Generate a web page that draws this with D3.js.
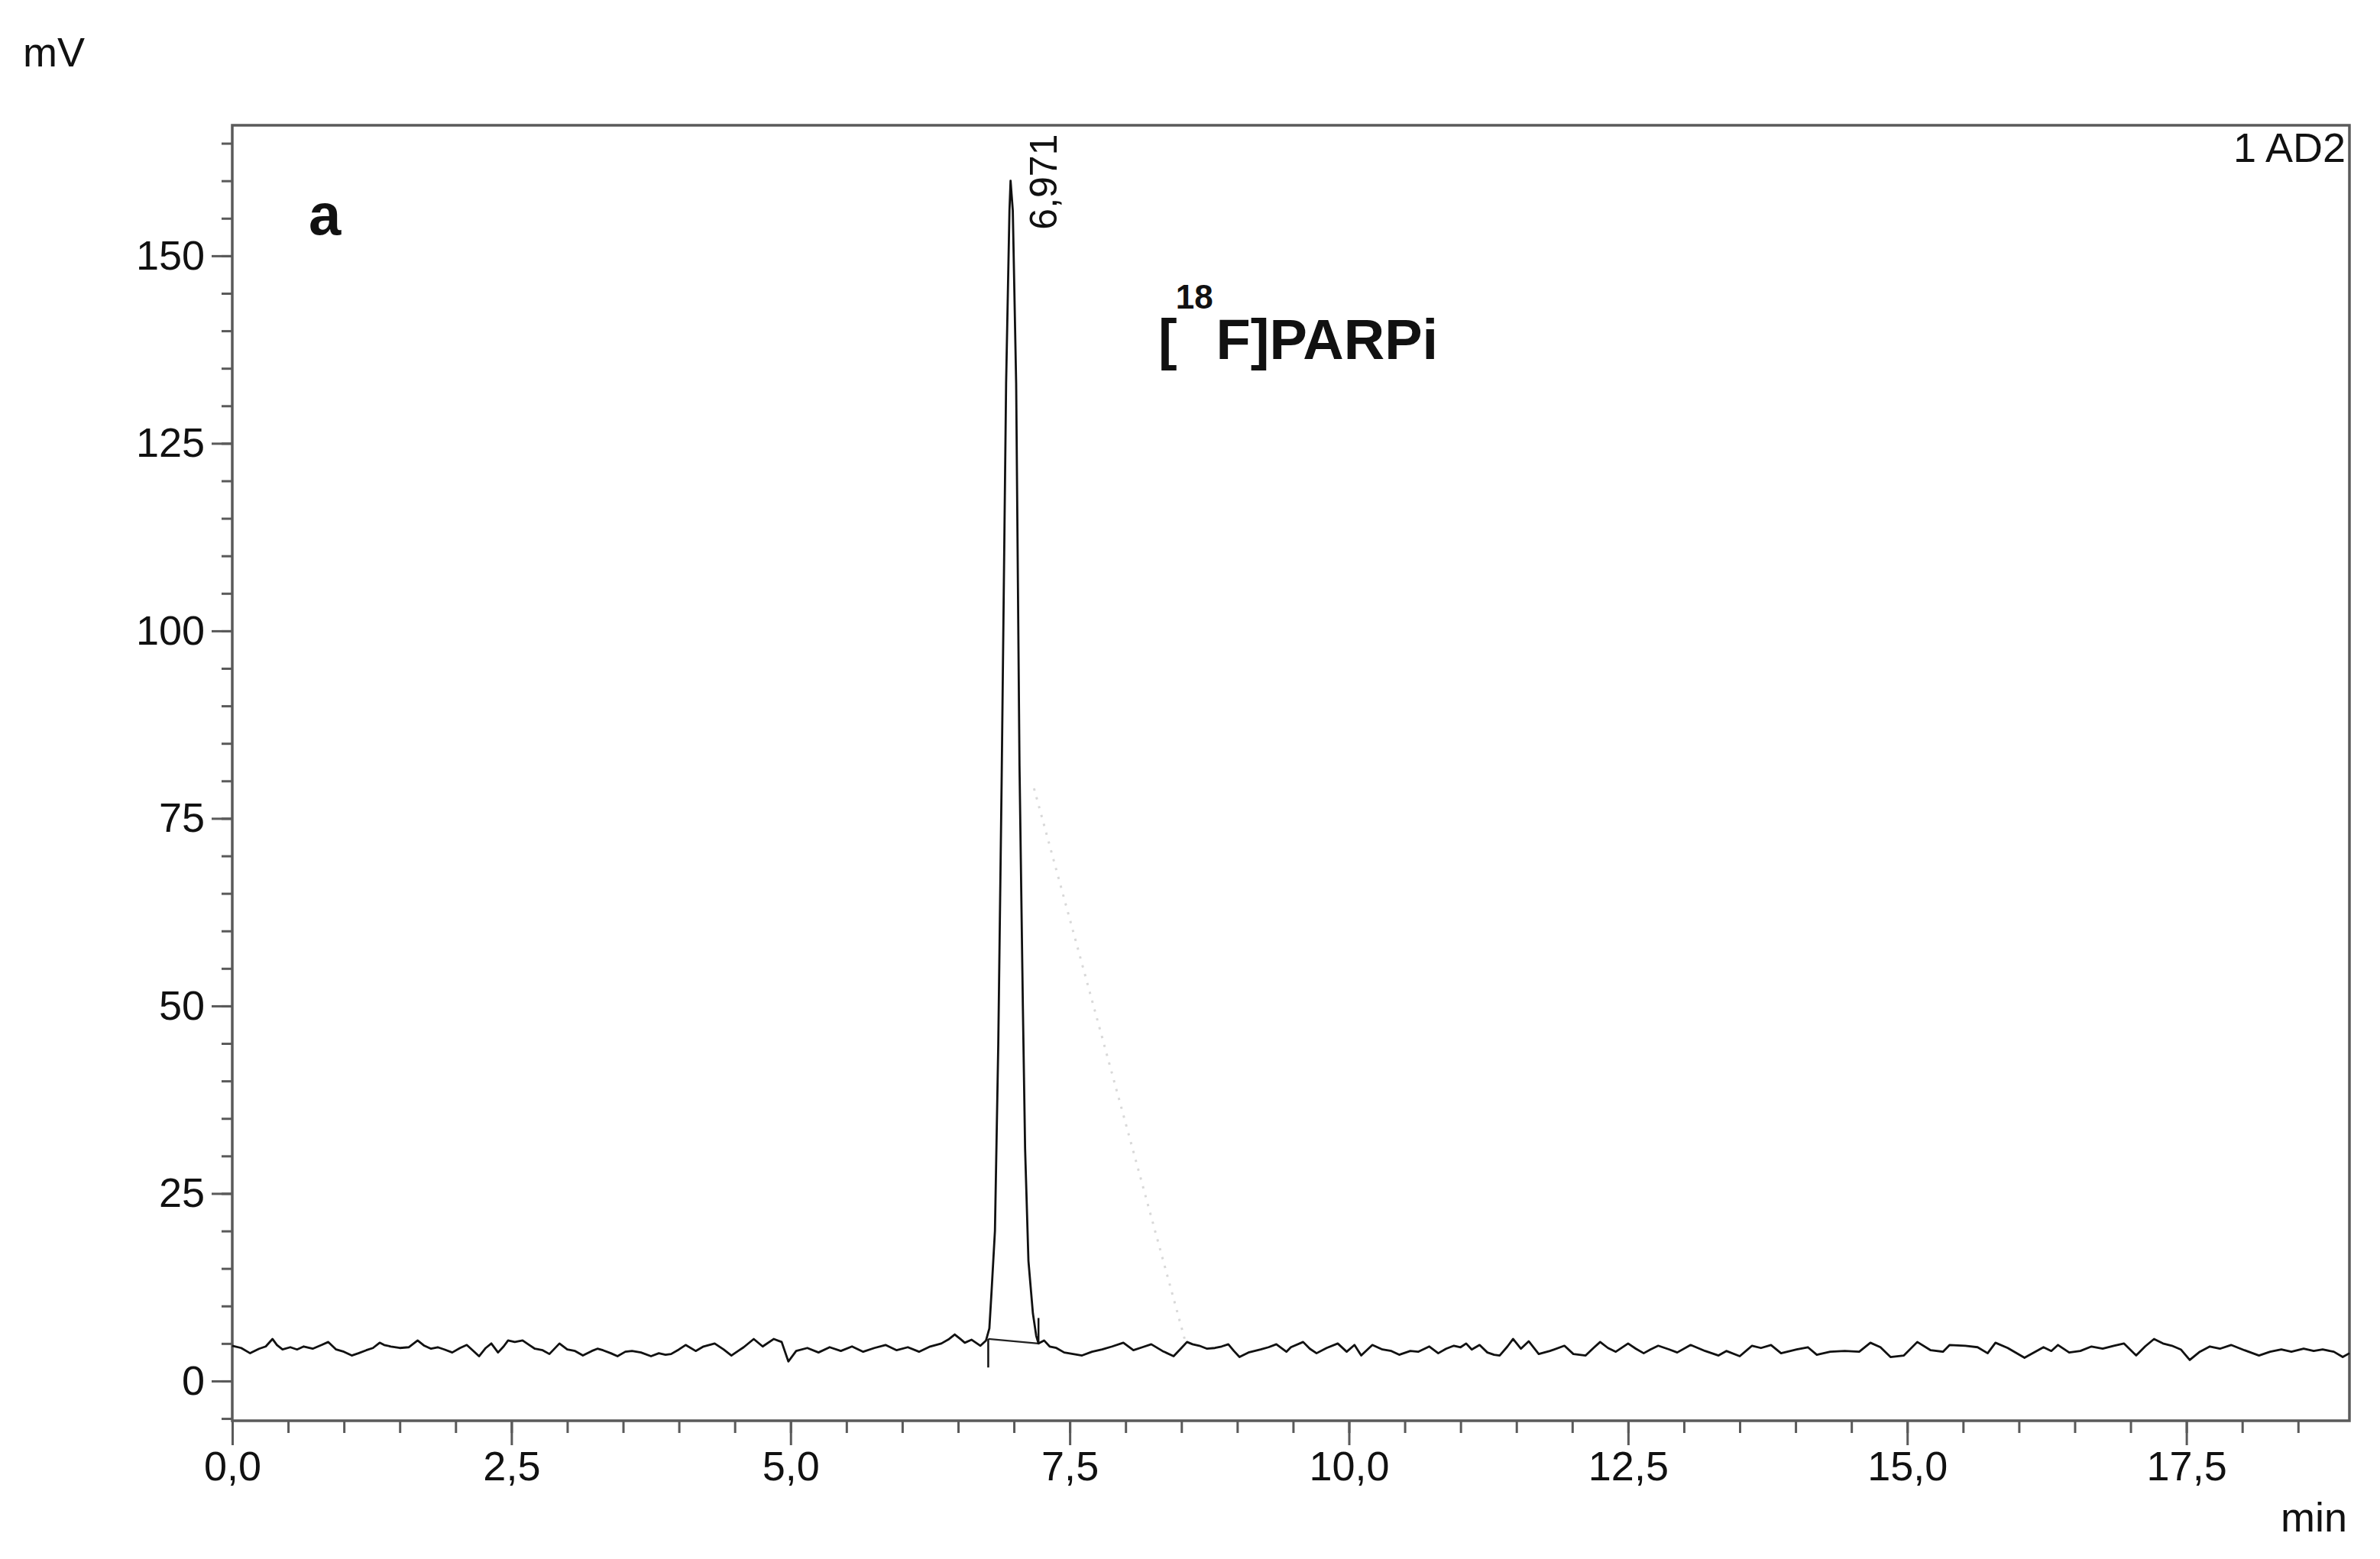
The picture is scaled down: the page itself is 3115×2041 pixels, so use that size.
<!DOCTYPE html>
<html>
<head>
<meta charset="utf-8">
<script src="https://cdn.jsdelivr.net/npm/d3@7"></script>
<style>
  body { margin: 0; background: #fff; }
  svg text { font-family: "Liberation Sans", Arial, sans-serif; fill: #111; }
</style>
</head>
<body>
<svg id="chart" width="3115" height="2041"></svg>
<script>
// chromatogram trace, [time (min), signal (mV)]
const trace = [
  [0.00,4.7],[0.08,4.4],[0.16,3.7],[0.24,4.3],[0.30,4.6],[0.36,5.6],[0.40,4.8],[0.45,4.2],[0.52,4.5],[0.58,4.2],
  [0.64,4.6],[0.72,4.3],[0.80,4.8],[0.86,5.2],[0.93,4.2],[1.00,3.9],[1.07,3.4],[1.13,3.7],[1.20,4.1],[1.26,4.4],
  [1.32,5.1],[1.36,4.8],[1.42,4.6],[1.50,4.4],[1.58,4.5],[1.66,5.4],[1.72,4.7],[1.78,4.3],[1.84,4.5],[1.90,4.2],
  [1.97,3.8],[2.04,4.4],[2.10,4.8],[2.16,4.0],[2.21,3.3],[2.27,4.4],[2.32,5.0],[2.38,3.8],[2.43,4.6],[2.47,5.4],
  [2.53,5.2],[2.60,5.4],[2.66,4.8],[2.71,4.3],[2.78,4.1],[2.84,3.6],[2.93,5.0],[3.00,4.2],[3.07,4.0],[3.14,3.4],
  [3.22,4.0],[3.27,4.3],[3.32,4.1],[3.39,3.7],[3.45,3.3],[3.52,3.9],[3.58,4.0],[3.66,3.8],[3.75,3.3],[3.82,3.7],
  [3.88,3.5],[3.93,3.6],[4.00,4.2],[4.06,4.8],[4.15,4.0],[4.22,4.6],[4.32,5.0],[4.40,4.2],[4.47,3.4],[4.53,4.0],
  [4.58,4.5],[4.67,5.6],[4.75,4.6],[4.85,5.6],[4.92,5.2],[4.98,2.6],[5.05,4.0],[5.15,4.4],[5.25,3.8],[5.35,4.5],
  [5.45,4.0],[5.55,4.6],[5.65,3.9],[5.75,4.4],[5.85,4.8],[5.95,4.1],[6.05,4.5],[6.15,3.9],[6.25,4.6],[6.35,5.0],
  [6.42,5.6],[6.47,6.2],[6.52,5.6],[6.56,5.1],[6.62,5.5],[6.70,4.7],[6.75,5.4],
  // peak
  [6.78,7],[6.80,12],[6.83,20],[6.86,45],[6.89,80],[6.93,133],[6.96,156],[6.97,160],[6.99,156],[7.02,133],
  [7.05,82],[7.08,50],[7.10,31],[7.13,16],[7.17,9],[7.20,6],[7.22,5.0],
  [7.27,5.4],[7.32,4.6],[7.38,4.4],[7.45,3.8],[7.53,3.6],[7.61,3.4],[7.70,3.9],[7.79,4.2],[7.88,4.6],[7.98,5.1],
  [8.07,4.1],[8.15,4.5],[8.23,4.9],[8.33,4.0],[8.43,3.3],[8.50,4.4],[8.55,5.2],[8.60,4.9],[8.66,4.7],[8.73,4.3],
  [8.80,4.4],[8.86,4.6],[8.92,4.9],[8.97,4.0],[9.02,3.2],[9.10,3.8],[9.21,4.2],[9.28,4.5],[9.35,4.9],[9.44,3.9],
  [9.48,4.5],[9.59,5.2],[9.65,4.3],[9.71,3.7],[9.80,4.4],[9.90,5.0],[9.98,3.9],[10.05,4.8],[10.11,3.4],[10.21,4.8],
  [10.30,4.2],[10.38,4.0],[10.45,3.5],[10.55,4.0],[10.62,3.9],[10.72,4.6],[10.80,3.7],[10.87,4.3],[10.94,4.7],[11.00,4.5],
  [11.05,5.0],[11.10,4.2],[11.17,4.8],[11.24,3.8],[11.30,3.5],[11.35,3.4],[11.42,4.6],[11.47,5.6],[11.54,4.3],[11.61,5.3],
  [11.70,3.6],[11.80,4.0],[11.93,4.7],[12.01,3.6],[12.12,3.4],[12.19,4.4],[12.25,5.2],[12.32,4.4],[12.39,3.9],[12.50,5.0],
  [12.57,4.3],[12.64,3.7],[12.70,4.2],[12.77,4.7],[12.87,4.2],[12.94,3.8],[13.06,4.8],[13.19,4.0],[13.31,3.4],[13.38,4.0],
  [13.50,3.3],[13.61,4.7],[13.69,4.4],[13.78,4.8],[13.87,3.7],[14.01,4.2],[14.11,4.5],[14.19,3.5],[14.31,3.9],[14.44,4.0],
  [14.57,3.9],[14.67,5.1],[14.76,4.5],[14.85,3.2],[14.97,3.4],[15.09,5.2],[15.21,4.1],[15.32,3.9],[15.38,4.8],[15.52,4.7],
  [15.63,4.5],[15.72,3.7],[15.79,5.1],[15.90,4.4],[16.05,3.1],[16.22,4.5],[16.29,4.0],[16.35,4.8],[16.45,3.8],[16.55,4.0],
  [16.65,4.6],[16.75,4.3],[16.85,4.7],[16.94,5.0],[17.05,3.4],[17.13,4.6],[17.21,5.6],[17.29,5.0],[17.37,4.7],[17.45,4.2],
  [17.53,2.8],[17.62,3.9],[17.71,4.6],[17.80,4.3],[17.90,4.8],[18.02,4.1],[18.15,3.4],[18.25,3.9],[18.35,4.2],[18.44,3.9],
  [18.55,4.3],[18.64,4.0],[18.72,4.2],[18.82,3.9],[18.90,3.2],[18.96,3.7]
];

// integration baseline under the peak and its start / end markers
const peakBaseline = [[6.77,5.6],[7.22,5.0]];
const peakMarks = [[6.77,5.6,1.8],[7.22,8.4,4.9]];   // [time, from mV, to mV]
// faint dotted line right of the peak
const driftLine = [[7.18,79],[8.54,5]];

const peakRT = "6,971";
const xMajor = [0, 2.5, 5, 7.5, 10, 12.5, 15, 17.5];
const xMinor = d3.range(0, 18.51, 0.5);
const yMajor = [0, 25, 50, 75, 100, 125, 150];
const yMinor = d3.range(-5, 166, 5);
const xDomain = [0, 18.96];
const yDomain = [-5.3, 167.4];

const svg = d3.select("#chart");
const plot = { left: 304, right: 3075, top: 164, bottom: 1860 };

svg.append("rect").attr("width", 3115).attr("height", 2041).attr("fill", "#fff");

const x = d3.scaleLinear().domain(xDomain).range([plot.left, plot.right]);
const y = d3.scaleLinear().domain(yDomain).range([plot.bottom, plot.top]);

const comma = d => d3.format(".1f")(d).replace(".", ",");
const axisColor = "#5a5a5a";

// y axis: minor then major ticks
const yMinorG = svg.append("g").attr("transform", `translate(${plot.left},0)`)
  .call(d3.axisLeft(y).tickValues(yMinor).tickSize(14).tickFormat(""));
const yMajorG = svg.append("g").attr("transform", `translate(${plot.left},0)`)
  .call(d3.axisLeft(y).tickValues(yMajor).tickSize(27).tickPadding(9).tickFormat(d3.format("d")));

// x axis
const xMinorG = svg.append("g").attr("transform", `translate(0,${plot.bottom})`)
  .call(d3.axisBottom(x).tickValues(xMinor).tickSize(16).tickFormat(""));
const xMajorG = svg.append("g").attr("transform", `translate(0,${plot.bottom})`)
  .call(d3.axisBottom(x).tickValues(xMajor).tickSize(32).tickPadding(8).tickFormat(comma));

[yMinorG, yMajorG, xMinorG, xMajorG].forEach(g => {
  g.select(".domain").remove();
  g.selectAll(".tick line").attr("stroke", axisColor).attr("stroke-width", 3);
  g.selectAll(".tick text").attr("font-size", 54).attr("fill", "#111")
    .attr("font-family", "Liberation Sans, Arial, sans-serif");
});

// frame
svg.append("rect")
  .attr("x", plot.left).attr("y", plot.top)
  .attr("width", plot.right - plot.left).attr("height", plot.bottom - plot.top)
  .attr("fill", "none").attr("stroke", axisColor).attr("stroke-width", 3.5);

const line = d3.line().x(d => x(d[0])).y(d => y(d[1]));

// faint dotted drift line
svg.append("path").datum(driftLine)
  .attr("d", line).attr("fill", "none")
  .attr("stroke", "#d8d8d8").attr("stroke-width", 3).attr("stroke-dasharray", "3,9");

// integration baseline + markers
svg.append("path").datum(peakBaseline)
  .attr("d", line).attr("fill", "none").attr("stroke", "#222").attr("stroke-width", 2.2);
svg.selectAll("line.mark").data(peakMarks).join("line")
  .attr("class", "mark")
  .attr("x1", d => x(d[0])).attr("x2", d => x(d[0]))
  .attr("y1", d => y(d[1])).attr("y2", d => y(d[2]))
  .attr("stroke", "#111").attr("stroke-width", 2.5);

// the trace
svg.append("path").datum(trace)
  .attr("d", line).attr("fill", "none")
  .attr("stroke", "#111").attr("stroke-width", 2.8).attr("stroke-linejoin", "round");

// texts
svg.append("text").attr("x", 30).attr("y", 87).attr("font-size", 54).text("mV");
svg.append("text").attr("x", 3072).attr("y", 2005).attr("font-size", 54)
  .attr("text-anchor", "end").text("min");
svg.append("text").attr("x", 3070).attr("y", 212).attr("font-size", 54)
  .attr("text-anchor", "end").text("1 AD2");
svg.append("text").attr("x", 404).attr("y", 307).attr("font-size", 76)
  .attr("font-weight", "bold").text("a");

// retention time label, rotated
svg.append("text")
  .attr("transform", `translate(${x(6.971) + 60},${y(160) + 64}) rotate(-90)`)
  .attr("font-size", 50).text(peakRT);

// compound label
const lbl = svg.append("text").attr("x", 1516).attr("y", 470)
  .attr("font-size", 74).attr("font-weight", "bold");
lbl.append("tspan").text("[");
lbl.append("tspan").attr("font-size", 44).attr("dy", -66).attr("dx", -2).text("18");
lbl.append("tspan").attr("dy", 66).attr("dx", 4).text("F]PARPi");
</script>
</body>
</html>
